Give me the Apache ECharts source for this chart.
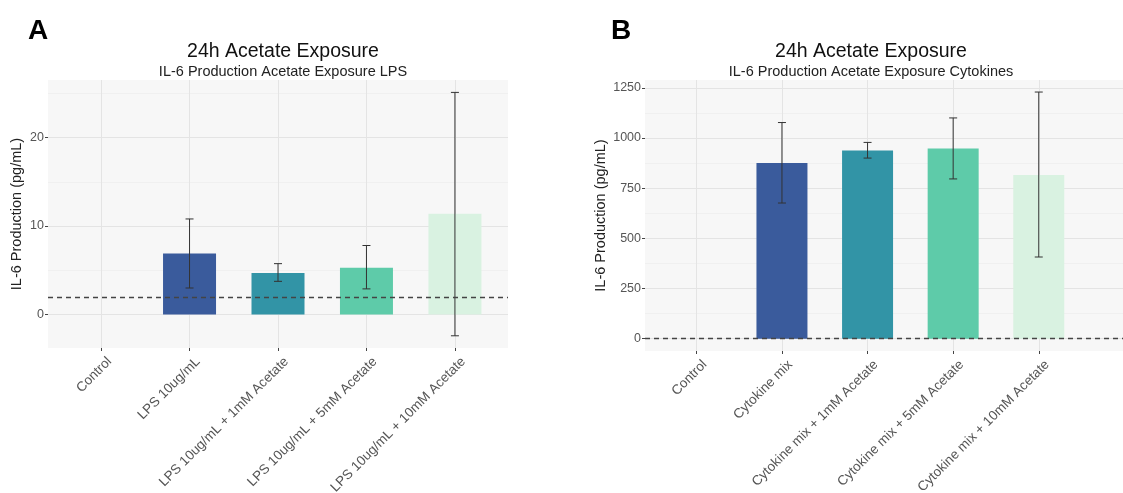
<!DOCTYPE html>
<html>
<head>
<meta charset="utf-8">
<script src="https://cdn.jsdelivr.net/npm/echarts@6/dist/echarts.min.js"></script>
<style>
  html, body { margin: 0; padding: 0; background: #fff; }
  #main { width: 1123px; height: 493px; }
</style>
</head>
<body>
<div id="main"></div>
<script>
// categories
const catsA = ['Control', 'LPS 10ug/mL', 'LPS 10ug/mL + 1mM Acetate', 'LPS 10ug/mL + 5mM Acetate', 'LPS 10ug/mL + 10mM Acetate']
const catsB = ['Control', 'Cytokine mix', 'Cytokine mix + 1mM Acetate', 'Cytokine mix + 5mM Acetate', 'Cytokine mix + 10mM Acetate']

// bar means (Control has no bar)
const meanA = [null, 6.9, 4.7, 5.3, 11.4]
const lowA = [null, 3.0, 3.75, 2.9, -2.4]
const highA = [null, 10.8, 5.75, 7.8, 25.1]
const baselineA = 2.0

const meanB = [null, 876, 938, 948, 816]
const lowB = [null, 676, 900, 796, 407]
const highB = [null, 1077, 978, 1100, 1229]
const baselineB = 0

// tick values
const ticksA = [0, 10, 20]
const minorA = [5, 15, 25]
const ticksB = [0, 250, 500, 750, 1000, 1250]
const minorB = [125, 375, 625, 875, 1125]

const barColors = ['#3a5b9c', '#3294a6', '#5ecba9', '#d9f2e1']

const chart = echarts.init(document.getElementById('main'))

const xAxisFor = (gridIndex, cats, max) => ({
    type: 'value',
    gridIndex: gridIndex,
    min: 0.4,
    max: max,
    axisLine: { show: false, onZero: false },
    axisTick: { show: true, customValues: [1, 2, 3, 4, 5], length: 3, lineStyle: { color: '#444' } },
    axisLabel: {
        customValues: [1, 2, 3, 4, 5],
        rotate: 45,
        fontSize: 13.5,
        color: '#555',
        margin: 3,
        verticalAlign: 'top',
        padding: [5, 0, 0, 0],
        formatter: v => cats[Math.round(v) - 1]
    },
    splitLine: { show: true, lineStyle: { color: '#e4e4e4', width: 1 } }
})

const yAxisFor = (gridIndex, min, max, ticks, nameGap) => ({
    type: 'value',
    gridIndex: gridIndex,
    min: min,
    max: max,
    name: 'IL-6 Production (pg/mL)',
    nameLocation: 'middle',
    nameGap: nameGap,
    nameTextStyle: { fontSize: 14.5, color: '#222' },
    axisLine: { show: false, onZero: false },
    axisTick: { show: true, customValues: ticks, length: 3, lineStyle: { color: '#444' } },
    axisLabel: { customValues: ticks, fontSize: 12.5, color: '#555', margin: 4, formatter: v => String(v) },
    splitLine: { show: true, lineStyle: { color: '#e4e4e4', width: 1 } }
})

// second y axis only for the lighter minor grid lines
const minorYFor = (gridIndex, min, max, ticks) => ({
    type: 'value',
    gridIndex: gridIndex,
    min: min,
    max: max,
    axisLine: { show: false },
    axisTick: { show: false, customValues: ticks },
    axisLabel: { show: false, customValues: ticks },
    splitLine: { show: true, lineStyle: { color: '#ededed', width: 0.8 } }
})

const barSeries = (xIdx, yIdx, means, barWidth, baseline) => ({
    type: 'bar',
    xAxisIndex: xIdx,
    yAxisIndex: yIdx,
    barWidth: barWidth,
    z: 2,
    data: means.map((m, i) => ({
        value: [i + 1, m],
        itemStyle: { color: barColors[Math.max(i - 1, 0)] }
    })).filter(d => d.value[1] !== null),
    markLine: {
        silent: true,
        symbol: 'none',
        label: { show: false },
        lineStyle: { type: [5, 4], color: '#444', width: 1.3 },
        data: [{ yAxis: baseline }]
    }
})

const errorSeries = (xIdx, yIdx, lows, highs) => ({
    type: 'custom',
    xAxisIndex: xIdx,
    yAxisIndex: yIdx,
    z: 3,
    data: lows.map((l, i) => [i + 1, l, highs[i]]).filter(d => d[1] !== null),
    renderItem: (params, api) => {
        const x = api.value(0)
        const lo = api.coord([x, api.value(1)])
        const hi = api.coord([x, api.value(2)])
        const cap = 4
        const style = { stroke: '#333', lineWidth: 1 }
        return {
            type: 'group',
            children: [
                { type: 'line', shape: { x1: lo[0], y1: lo[1], x2: hi[0], y2: hi[1] }, style: style },
                { type: 'line', shape: { x1: lo[0] - cap, y1: lo[1], x2: lo[0] + cap, y2: lo[1] }, style: style },
                { type: 'line', shape: { x1: hi[0] - cap, y1: hi[1], x2: hi[0] + cap, y2: hi[1] }, style: style }
            ]
        }
    }
})

const titleStyle = { fontSize: 19.5, color: '#111', fontWeight: 'normal' }
const subStyle = { fontSize: 14.5, color: '#222' }
const letterStyle = { fontSize: 28, fontWeight: 'bold', color: '#000' }

const option = {
    animation: false,
    textStyle: { fontFamily: 'Liberation Sans, Arial, sans-serif' },
    title: [
        { text: 'A', left: 23, top: 12, textStyle: letterStyle },
        { text: 'B', left: 606, top: 12, textStyle: letterStyle },
        { text: '24h Acetate Exposure', subtext: 'IL-6 Production Acetate Exposure LPS', left: 278, textAlign: 'center', top: 37, itemGap: 2, textStyle: titleStyle, subtextStyle: subStyle },
        { text: '24h Acetate Exposure', subtext: 'IL-6 Production Acetate Exposure Cytokines', left: 866, textAlign: 'center', top: 37, itemGap: 2, textStyle: titleStyle, subtextStyle: subStyle }
    ],
    grid: [
        { left: 48, top: 80, width: 460, height: 268, show: true, backgroundColor: '#f7f7f7', borderWidth: 0, outerBoundsMode: 'none', containLabel: false },
        { left: 645, top: 80, width: 478, height: 271, show: true, backgroundColor: '#f7f7f7', borderWidth: 0, outerBoundsMode: 'none', containLabel: false }
    ],
    xAxis: [
        xAxisFor(0, catsA, 5.6),
        xAxisFor(1, catsB, 0.4 + 478 / 85.6)
    ],
    yAxis: [
        yAxisFor(0, -3.78, 26.5, ticksA, 24),
        minorYFor(0, -3.78, 26.5, minorA),
        yAxisFor(1, -61.4, 1289, ticksB, 37),
        minorYFor(1, -61.4, 1289, minorB)
    ],
    series: [
        barSeries(0, 0, meanA, 53, baselineA),
        errorSeries(0, 0, lowA, highA),
        barSeries(1, 2, meanB, 51, baselineB),
        errorSeries(1, 2, lowB, highB)
    ]
}

chart.setOption(option)
</script>
</body>
</html>
